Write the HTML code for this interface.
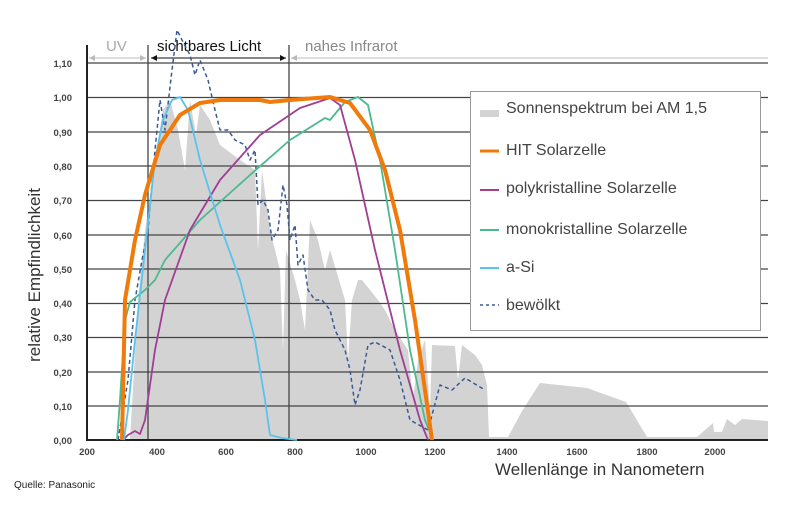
<!DOCTYPE html>
<html><head><meta charset="utf-8"><style>
body{margin:0;background:#fff;width:800px;height:503px;overflow:hidden;font-family:"Liberation Sans",sans-serif}
</style></head><body>
<svg width="800" height="503" xmlns="http://www.w3.org/2000/svg" font-family="Liberation Sans, sans-serif">
<rect width="800" height="503" fill="#fff"/>
<polygon fill="#d3d3d3" points="130,440 138,300 145,230 155,160 163,110 170,100 178,130 185,170 190,100 196,135 200,105 210,120 220,145 240,160 255,170 258,250 262,170 270,230 280,270 283,350 286,250 295,280 300,300 305,330 310,220 318,240 325,270 330,250 345,300 348,360 352,300 358,280 362,280 378,300 385,310 395,330 408,350 413,400 418,360 425,340 430,410 432,345 455,346 458,380 462,345 475,355 482,365 487,385 489,437 508,437 521,413 527,403 540,383 587,388 626,402 647,437 697,437 713,423 714,432 722,432 727,419 735,425 742,419 768,421 768,440"/>
<g stroke="#444" stroke-width="1.3">
<line x1="87" y1="406" x2="768" y2="406"/><line x1="87" y1="372" x2="768" y2="372"/><line x1="87" y1="337.5" x2="768" y2="337.5"/><line x1="87" y1="303.5" x2="768" y2="303.5"/><line x1="87" y1="269" x2="768" y2="269"/><line x1="87" y1="235" x2="768" y2="235"/><line x1="87" y1="200.5" x2="768" y2="200.5"/><line x1="87" y1="166" x2="768" y2="166"/><line x1="87" y1="132" x2="768" y2="132"/><line x1="87" y1="97.5" x2="768" y2="97.5"/><line x1="87" y1="63" x2="768" y2="63"/>
<line x1="148" y1="45" x2="148" y2="440"/><line x1="289" y1="45" x2="289" y2="440"/>
</g>
<line x1="87" y1="45" x2="87" y2="441" stroke="#222" stroke-width="2"/>
<line x1="86" y1="440" x2="768" y2="440" stroke="#222" stroke-width="2"/>
<line x1="89" y1="58" x2="146" y2="58" stroke="#bbb"/><path d="M89,58 l6,-3 v6z M146,58 l-6,-3 v6z" fill="#bbb"/>
<line x1="151" y1="58" x2="286" y2="58" stroke="#111"/><path d="M151,58 l6,-3 v6z M286,58 l-6,-3 v6z" fill="#111"/>
<line x1="291" y1="58" x2="768" y2="58" stroke="#bbb"/><path d="M291,58 l6,-3 v6z" fill="#bbb"/>
<text x="106" y="51" font-size="15" fill="#aaa">UV</text>
<text x="157" y="51" font-size="15" fill="#111">sichtbares Licht</text>
<text x="305" y="51" font-size="15" fill="#888">nahes Infrarot</text>
<rect x="470.5" y="91.5" width="290" height="239" fill="#fff" stroke="#999"/>
<rect x="480" y="110" width="19" height="7" fill="#d3d3d3"/>
<line x1="480" y1="151" x2="499" y2="151" stroke="#f07a0a" stroke-width="3"/>
<line x1="480" y1="190" x2="499" y2="190" stroke="#a03e96" stroke-width="2"/>
<line x1="480" y1="230" x2="499" y2="230" stroke="#4cb98f" stroke-width="2"/>
<line x1="480" y1="268" x2="499" y2="268" stroke="#5bc3ea" stroke-width="2"/>
<line x1="480" y1="305" x2="499" y2="305" stroke="#3a5a96" stroke-width="1.5" stroke-dasharray="3,3"/>
<g font-size="16" fill="#444">
<text x="506" y="113">Sonnenspektrum bei AM 1,5</text>
<text x="506" y="155">HIT Solarzelle</text>
<text x="506" y="193">polykristalline Solarzelle</text>
<text x="506" y="234">monokristalline Solarzelle</text>
<text x="506" y="272">a-Si</text>
<text x="506" y="310">bewölkt</text>
</g>
<g fill="none" stroke-linejoin="round">
<polyline stroke="#3a5a96" stroke-width="1.5" stroke-dasharray="4,3" points="118,440 128,380 135,300 142,260 148,230 155,150 160,100 165,130 172,70 177,30 182,40 190,55 195,75 200,60 208,80 215,110 220,130 228,130 235,140 245,145 250,160 255,150 258,205 263,200 268,210 272,240 278,230 283,185 287,205 290,240 295,225 298,265 303,255 308,290 315,300 322,300 330,310 335,330 345,350 350,370 355,405 360,390 368,345 375,342 390,350 400,380 410,420 428,430 440,385 452,390 465,378 485,390"/>
<polyline stroke="#4cb98f" stroke-width="1.8" points="117,440 120,400 125,320 130,302 145,290 155,280 165,260 200,220 250,175 290,140 325,118 330,120 345,102 358,97 368,105 380,160 395,250 410,350 425,420 433,440"/>
<polyline stroke="#a03e96" stroke-width="1.8" points="123,440 128,435 135,431 140,434 145,420 155,350 165,300 190,230 220,180 260,135 300,108 330,98 340,105 355,160 375,250 400,350 420,420 428,440"/>
<polyline stroke="#5bc3ea" stroke-width="1.8" points="124,440 128,410 135,340 145,250 155,160 163,120 172,100 180,97 188,110 200,160 220,225 240,280 255,340 265,400 270,435 282,438 297,440"/>
<polyline stroke="#f07a0a" stroke-width="4" points="122,440 125,300 135,240 145,195 160,145 180,115 200,103 220,100 260,100 270,102 290,100 330,97 350,103 370,130 385,170 400,230 415,320 425,390 432,440"/>
</g>
<g font-size="9.5" fill="#444" font-weight="bold" text-anchor="end">
<text x="72" y="444">0,00</text><text x="72" y="410">0,10</text><text x="72" y="376">0,20</text><text x="72" y="341">0,30</text><text x="72" y="307">0,40</text><text x="72" y="273">0,50</text><text x="72" y="239">0,60</text><text x="72" y="204">0,70</text><text x="72" y="170">0,80</text><text x="72" y="136">0,90</text><text x="72" y="101">1,00</text><text x="72" y="67">1,10</text>
</g>
<g font-size="9.5" fill="#444" font-weight="bold" text-anchor="middle">
<text x="87" y="455">200</text><text x="157" y="455">400</text><text x="226" y="455">600</text><text x="295" y="455">800</text><text x="366" y="455">1000</text><text x="435" y="455">1200</text><text x="507" y="455">1400</text><text x="577" y="455">1600</text><text x="647" y="455">1800</text><text x="715" y="455">2000</text>
</g>
<text x="495" y="475" font-size="17" fill="#333">Wellenlänge in Nanometern</text>
<text transform="translate(40,275) rotate(-90)" font-size="17" fill="#333" text-anchor="middle">relative Empfindlichkeit</text>
<text x="14" y="488" font-size="10" fill="#222">Quelle: Panasonic</text>
</svg>
</body></html>
